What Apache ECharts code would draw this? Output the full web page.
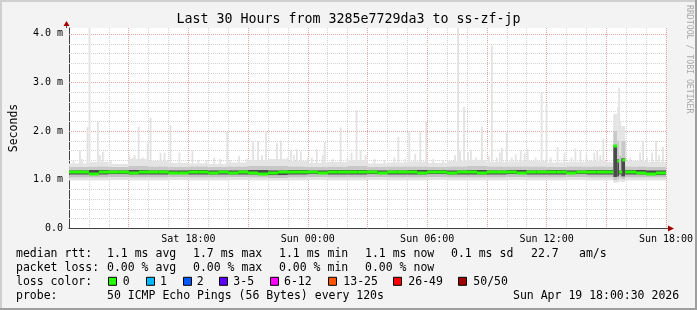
<!DOCTYPE html>
<html><head><meta charset="utf-8">
<script src="https://cdn.jsdelivr.net/npm/echarts@6/dist/echarts.min.js"></script>
<style>html,body{margin:0;padding:0;background:#f3f3f3}#c{width:697px;height:310px}</style>
</head><body><div id="c"></div>
<script>
// ---------- data ----------
const titleText = 'Last 30 Hours from 3285e7729da3 to ss-zf-jp';
const yAxisTitle = 'Seconds';
const xTickHours = [6, 12, 18, 24, 30];
const xTickLabels = ['Sat 18:00', 'Sun 00:00', 'Sun 06:00', 'Sun 12:00', 'Sun 18:00'];
const yTickValues = [0, 1, 2, 3, 4];
const yTickLabels = ['0.0', '1.0 m', '2.0 m', '3.0 m', '4.0 m'];

// median rtt (ms) vs hours since Sat 12:00
const medianHours = [0,0.5,1,1.5,2,2.5,3,3.5,4,4.5,5,5.5,6,6.5,7,7.5,8,8.5,9,9.5,10,10.5,11,11.5,12,12.5,13,13.5,14,14.5,15,15.5,16,16.5,17,17.5,18,18.5,19,19.5,20,20.5,21,21.5,22,22.5,23,23.5,24,24.5,25,25.5,26,26.5,27,27.35,27.55,27.65,27.8,27.95,28.5,29,29.5,30];
const medianValues = [1.15,1.16,1.12,1.15,1.16,1.15,1.14,1.16,1.15,1.15,1.13,1.14,1.16,1.15,1.14,1.15,1.13,1.15,1.14,1.12,1.13,1.15,1.15,1.16,1.15,1.14,1.16,1.15,1.16,1.15,1.15,1.14,1.15,1.16,1.15,1.14,1.16,1.15,1.14,1.16,1.15,1.13,1.15,1.16,1.15,1.14,1.15,1.16,1.15,1.15,1.14,1.15,1.16,1.15,1.16,1.68,1.39,1.15,1.40,1.15,1.13,1.12,1.14,1.15];

// smoke bands (ms): boundaries from bottom to top
const smokeHours = [0,1,2,3,4,5,6,7,8,9,10,11,12,13,14,15,16,17,18,19,20,21,22,23,24,25,26,27,27.35,27.55,27.65,27.75,27.95,29,30];
const smokeLo  = [0.98,0.98,0.99,0.98,0.98,0.99,0.98,0.98,0.99,0.98,0.98,0.98,0.99,0.98,0.98,0.99,0.98,0.98,0.99,0.98,0.98,0.98,0.99,0.98,0.98,0.99,0.98,0.98,0.93,0.94,0.96,0.95,0.98,0.98,0.98];
const smokeB1  = [1.04,1.04,1.05,1.04,1.04,1.05,1.04,1.04,1.05,1.04,1.03,1.04,1.05,1.04,1.04,1.05,1.04,1.04,1.05,1.04,1.04,1.04,1.05,1.04,1.04,1.05,1.04,1.04,0.99,1.00,1.03,1.01,1.04,1.04,1.04];
const smokeB2  = [1.10,1.10,1.11,1.10,1.10,1.11,1.10,1.10,1.10,1.10,1.09,1.10,1.11,1.10,1.10,1.11,1.10,1.10,1.11,1.10,1.10,1.10,1.11,1.10,1.10,1.11,1.10,1.10,1.05,1.06,1.10,1.06,1.10,1.09,1.10];
const smokeB3  = [1.19,1.20,1.19,1.20,1.19,1.19,1.20,1.19,1.19,1.20,1.19,1.20,1.19,1.20,1.20,1.19,1.19,1.20,1.20,1.19,1.20,1.19,1.20,1.19,1.20,1.19,1.20,1.20,1.70,1.42,1.19,1.44,1.20,1.19,1.20];
const smokeB4  = [1.26,1.27,1.26,1.28,1.27,1.26,1.27,1.26,1.27,1.28,1.28,1.27,1.26,1.27,1.28,1.26,1.27,1.27,1.26,1.27,1.28,1.27,1.27,1.27,1.26,1.27,1.27,1.27,2.00,1.80,1.50,1.80,1.27,1.26,1.27];
const smokeTop = [1.33,1.36,1.32,1.42,1.38,1.34,1.33,1.32,1.35,1.40,1.42,1.38,1.34,1.36,1.40,1.33,1.35,1.37,1.34,1.38,1.40,1.36,1.37,1.38,1.35,1.36,1.38,1.36,2.35,2.50,2.20,2.10,1.38,1.36,1.36];

// single outlier pings (light smoke spikes)
const spikeHours = [0.23,0.55,0.65,0.93,1.03,1.45,1.55,1.7,2.1,3.03,3.2,3.3,3.5,3.7,3.95,4.1,4.55,4.6,4.8,5.1,5.55,6.2,6.5,6.9,7.3,7.6,7.95,8.1,8.55,8.95,9.25,9.5,9.7,9.9,10.45,10.65,11.0,11.15,11.3,11.45,11.65,12.0,12.2,12.45,12.75,12.85,13.25,13.65,14.0,14.2,14.45,14.65,14.9,15.35,15.85,16.35,16.55,16.9,17.1,17.4,17.65,17.95,18.3,18.8,19.4,19.55,19.65,19.85,20.05,20.2,20.45,20.75,21.1,21.25,21.5,21.65,21.75,22.0,22.25,22.45,22.7,22.9,23.05,23.45,23.75,24.0,24.2,24.55,24.9,25.25,25.45,25.7,26.0,26.4,26.55,26.7,26.85,27.65,27.95,28.2,28.7,28.85,29.05,29.3,29.5,29.65,29.85];
const spikeTops  = [1.40,1.60,1.42,2.08,4.12,2.20,1.50,1.57,1.40,1.50,1.45,1.50,2.09,1.45,1.75,2.27,1.40,1.55,1.55,2.12,1.55,1.60,1.40,1.40,1.45,1.42,1.99,1.40,1.48,1.42,1.79,1.79,1.50,2.00,1.75,1.81,1.45,1.60,1.50,1.62,1.58,1.45,1.45,1.63,1.50,1.77,1.42,2.07,1.45,1.55,2.43,1.60,1.50,1.42,1.40,1.45,1.88,1.42,1.99,1.52,1.99,2.19,1.42,1.40,1.50,4.12,1.58,2.50,1.55,1.60,1.45,2.09,1.48,3.76,1.45,1.55,1.65,1.96,1.45,1.52,1.60,1.55,1.63,1.45,2.80,2.54,1.45,1.67,1.55,1.45,1.64,1.60,1.50,1.55,1.60,1.50,1.83,2.89,1.80,1.45,1.55,1.80,1.45,1.55,1.80,1.50,1.67];

// legend
const rttLegend  = ['median rtt:', '1.1 ms avg', '1.7 ms max', '1.1 ms min', '1.1 ms now', '0.1 ms sd', '22.7', 'am/s'];
const lossLegend = ['packet loss:', '0.00 % avg', '0.00 % max', '0.00 % min', '0.00 % now'];
const lossColorTitle = 'loss color:';
const lossLabels = ['0', '1', '2', '3-5', '6-12', '13-25', '26-49', '50/50'];
const lossColors = ['#26ff00', '#00b8ff', '#0059ff', '#5e00ff', '#ff00fe', '#ff5500', '#ff0000', '#a10000'];
const probeTitle = 'probe:';
const probeText = '50 ICMP Echo Pings (56 Bytes) every 120s';
const dateText = 'Sun Apr 19 18:00:30 2026';
const sideText = 'RRDTOOL / TOBI OETIKER';

// ---------- layout / style ----------
const MONO = '"DejaVu Sans Mono", "Liberation Mono", monospace';
const rttX  = [16, 107, 193, 279, 365, 451, 531, 579];
const lossX = [16, 107, 193, 279, 365];
const boxX  = [108, 146, 183, 219, 270, 328, 393, 458];
const boxLabelX = [122.7, 160, 196.7, 233.3, 284, 343.3, 408.3, 473.3];
const rowY = [254.5, 268, 281.8, 295.6];
const smokeColors = ['#e2e2e2', '#c2c2c2', '#4a4a4a', '#c8c8c8', '#e4e4e4'];
const spikeBase = 1.2;

const chart = echarts.init(document.getElementById('c'), null, {renderer: 'canvas'});

const smokeData = smokeHours.slice(0, -1).map((h, i) => [h, smokeHours[i + 1],
  smokeLo[i], smokeB1[i], smokeB2[i], smokeB3[i], smokeB4[i], smokeTop[i]]);
const medianData = medianHours.slice(0, -1).map((h, i) => [h, medianHours[i + 1], medianValues[i]]);
const spikeData = spikeHours.map((h, i) => [h, spikeTops[i]]);
const yGridData = [];
for (let k = 1; k <= 20; k++) yGridData.push([0, +(k * 0.2).toFixed(1)]);

const txt = (text, x, y, opt) => Object.assign({
  type: 'text', silent: true,
  style: Object.assign({text, x, y, font: '11.5px ' + MONO, fill: '#000', textVerticalAlign: 'middle', textAlign: 'left'}, opt || {})
});

const graphics = [];
// frame
graphics.push({type: 'rect', silent: true, shape: {x: 0, y: 0, width: 697, height: 2}, style: {fill: '#cfcfcf'}});
graphics.push({type: 'rect', silent: true, shape: {x: 0, y: 0, width: 2, height: 310}, style: {fill: '#cfcfcf'}});
graphics.push({type: 'rect', silent: true, shape: {x: 0, y: 308, width: 697, height: 2}, style: {fill: '#9e9e9e'}});
graphics.push({type: 'rect', silent: true, shape: {x: 695, y: 0, width: 2, height: 310}, style: {fill: '#9e9e9e'}});
// title
graphics.push(txt(titleText, 348.5, 20, {font: '13.3px ' + MONO, textAlign: 'center'}));
// side text
graphics.push({type: 'text', silent: true, x: 689, y: 5, rotation: -Math.PI / 2,
  style: {text: sideText, x: 0, y: 0, font: '8.2px ' + MONO, fill: '#a8a8a8', textAlign: 'left', textVerticalAlign: 'middle'}});
// arrows
graphics.push({type: 'line', silent: true, shape: {x1: 66.5, y1: 28, x2: 66.5, y2: 25}, style: {stroke: '#404040', lineWidth: 1}});
graphics.push({type: 'polygon', silent: true, shape: {points: [[63.5, 26], [69.5, 26], [66.5, 21]]}, style: {fill: '#a00000'}});
graphics.push({type: 'line', silent: true, shape: {x1: 666, y1: 228.5, x2: 669, y2: 228.5}, style: {stroke: '#404040', lineWidth: 1}});
graphics.push({type: 'polygon', silent: true, shape: {points: [[668, 225.5], [668, 231.5], [674, 228.5]]}, style: {fill: '#a00000'}});
// legend rows
rttLegend.forEach((t, i) => graphics.push(txt(t, rttX[i], rowY[0])));
lossLegend.forEach((t, i) => graphics.push(txt(t, lossX[i], rowY[1])));
graphics.push(txt(lossColorTitle, 16, rowY[2]));
lossLabels.forEach((t, i) => {
  graphics.push({type: 'rect', silent: true, shape: {x: boxX[i] + 0.5, y: rowY[2] - 4.5, width: 8, height: 8},
    style: {fill: lossColors[i], stroke: '#000', lineWidth: 1}});
  graphics.push(txt(t, boxLabelX[i], rowY[2]));
});
graphics.push(txt(probeTitle, 16, rowY[3]));
graphics.push(txt(probeText, 107, rowY[3]));
graphics.push(txt(dateText, 513, rowY[3]));

const option = {
  animation: false,
  backgroundColor: '#f3f3f3',
  textStyle: {fontFamily: MONO},
  grid: {left: 66, right: 31, top: 28, bottom: 82, show: true, backgroundColor: '#ffffff', borderWidth: 0},
  xAxis: {
    type: 'value', min: 0, max: 30, interval: 3,
    axisLine: {show: true, onZero: false, lineStyle: {color: '#404040', width: 1}},
    axisTick: {show: false},
    minorTick: {show: false, splitNumber: 3},
    axisLabel: {
      show: true, margin: 6, fontSize: 10, color: '#000', fontFamily: MONO, showMaxLabel: true, showMinLabel: true,
      formatter: v => { const i = xTickHours.indexOf(Math.round(v)); return (i >= 0 && Math.abs(v - Math.round(v)) < 1e-6) ? xTickLabels[i] : ''; }
    },
    splitLine: {show: true, lineStyle: {color: '#e3a3a3', width: 1, type: [1, 1]}},
    minorSplitLine: {show: true, lineStyle: {color: '#d2d2d2', width: 1, type: [1, 1]}}
  },
  yAxis: {
    type: 'value', min: 0, max: 4.12, interval: 1,
    name: yAxisTitle, nameLocation: 'middle', nameRotate: 90, nameGap: 49,
    nameTextStyle: {fontSize: 11.5, fontFamily: MONO, color: '#000'},
    axisLine: {show: true, lineStyle: {color: '#404040', width: 1}},
    axisTick: {show: false},
    axisLabel: {
      margin: 6, fontSize: 10, color: '#000', fontFamily: MONO, showMaxLabel: true,
      formatter: v => { if (Math.abs(v - Math.round(v)) > 1e-6) return ''; const i = yTickValues.indexOf(Math.round(v)); return i >= 0 ? yTickLabels[i] : ''; }
    },
    splitLine: {show: false}
  },
  series: [
    { // horizontal grid lines
      type: 'custom', name: 'ygrid', silent: true, z: 1, clip: true,
      data: yGridData,
      renderItem: (params, api) => {
        const v = api.value(1);
        const a = api.coord([0, v]), b = api.coord([30, v]);
        const y = Math.round(a[1]) + 0.5;
        const major = Math.abs(v - Math.round(v)) < 1e-6;
        return {type: 'line', shape: {x1: a[0], y1: y, x2: b[0], y2: y},
          style: {stroke: major ? '#e3a3a3' : '#d2d2d2', lineWidth: 1, lineDash: [1, 1]}};
      }
    },
    { // outlier spikes
      type: 'custom', name: 'spikes', silent: true, z: 2, clip: true,
      data: spikeData,
      renderItem: (params, api) => {
        const top = api.coord([api.value(0), api.value(1)]);
        const base = api.coord([api.value(0), spikeBase]);
        return {type: 'rect', shape: {x: top[0] - 0.9, y: top[1], width: 1.8, height: base[1] - top[1]},
          style: {fill: '#e2e2e2'}};
      }
    },
    { // smoke bands
      type: 'custom', name: 'smoke', silent: true, z: 3, clip: true,
      data: smokeData,
      renderItem: (params, api) => {
        const t0 = api.value(0), t1 = api.value(1);
        const children = [];
        for (let k = 0; k < 5; k++) {
          const lo = api.value(2 + k), hi = api.value(3 + k);
          const a = api.coord([t0, lo]), b = api.coord([t1, hi]);
          children.push({type: 'rect', shape: {x: a[0], y: b[1], width: b[0] - a[0], height: a[1] - b[1]},
            style: {fill: smokeColors[k]}});
        }
        return {type: 'group', children};
      }
    },
    { // median line
      type: 'custom', name: 'median', silent: true, z: 4, clip: true,
      data: medianData,
      renderItem: (params, api) => {
        const a = api.coord([api.value(0), api.value(2)]);
        const b = api.coord([api.value(1), api.value(2)]);
        const y = Math.round(a[1]);
        return {type: 'rect', shape: {x: a[0], y: y - 1.5, width: b[0] - a[0], height: 3},
          style: {fill: lossColors[0]}};
      }
    }
  ],
  graphic: graphics
};
chart.setOption(option);
</script>
</body></html>
